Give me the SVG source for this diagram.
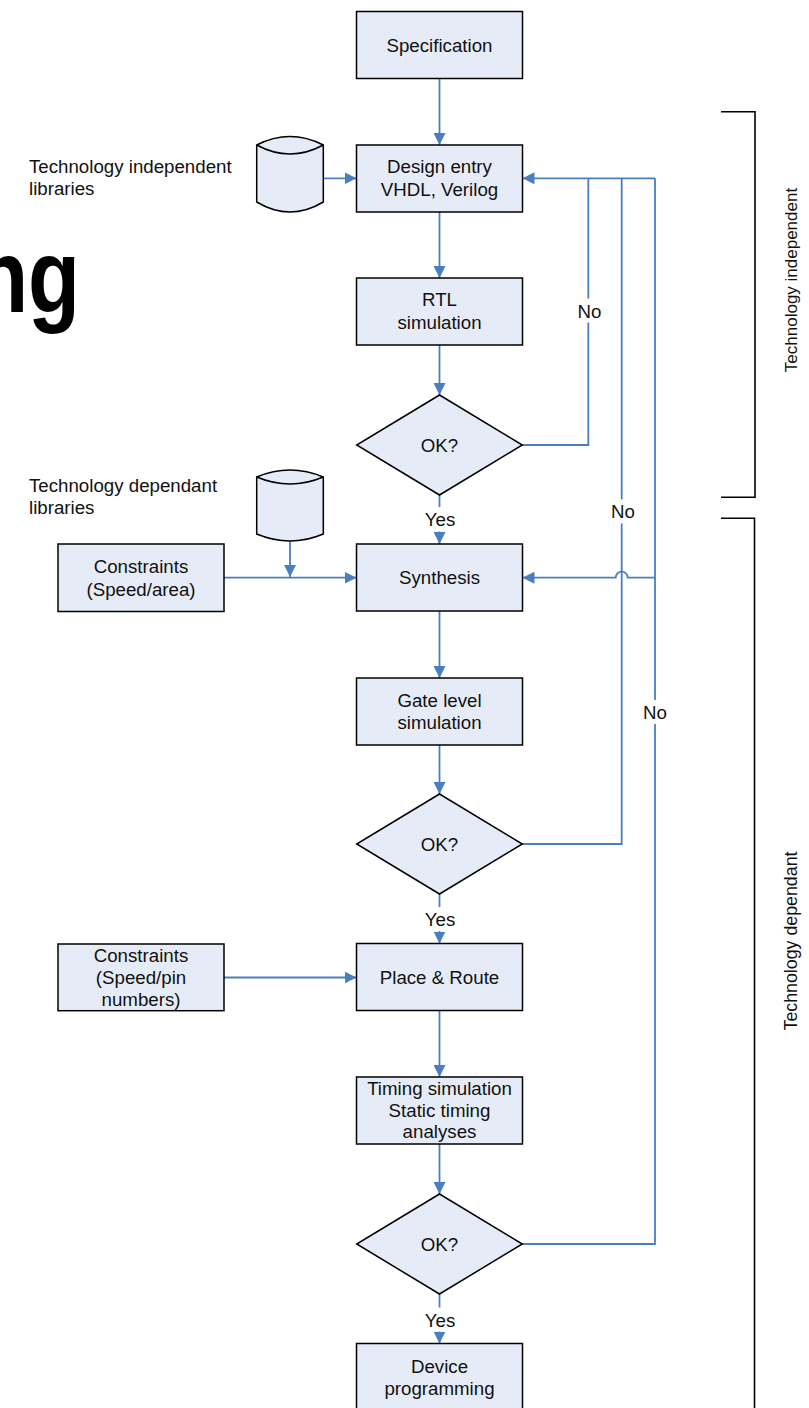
<svg xmlns="http://www.w3.org/2000/svg" width="809" height="1408" viewBox="0 0 809 1408">
  <style>
    .box { fill: #E6ECF7; stroke: #000; stroke-width: 1.5; }
    .cyl { fill: #E6ECF7; stroke: #000; stroke-width: 1.5; }
    .wire { fill: none; stroke: #4A7EBE; stroke-width: 1.8; }
    .arrow { fill: none; stroke: #4A7EBE; stroke-width: 1.8; marker-end: url(#head); }
    .brk { fill: none; stroke: #000; stroke-width: 1.6; }
    .t { font-family: "Liberation Sans", Arial, sans-serif; font-size: 18.7px; fill: #111; }
    .c { text-anchor: middle; }
    .side { font-family: "Liberation Sans", Arial, sans-serif; font-size: 17px; fill: #111; text-anchor: middle; }
    .bg { fill: #fff; }
  </style>
  <defs>
    <marker id="head" markerUnits="userSpaceOnUse" markerWidth="12" markerHeight="12" refX="12" refY="6" orient="auto">
      <path d="M0,0 L12,6 L0,12 z" fill="#4A7EBE"/>
    </marker>
  </defs>

  <rect width="809" height="1408" fill="#fff"/>

  <!-- clipped title fragment -->
  <text transform="translate(80,312) scale(1,1.22)" font-family="'Liberation Sans', Arial, sans-serif" font-weight="bold" font-size="85" text-anchor="end" fill="#000">ng</text>

  <!-- library captions -->
  <g id="lib-indep-label">
    <text class="t" x="29" y="173.3">Technology independent</text>
    <text class="t" x="29" y="195.3">libraries</text>
  </g>
  <g id="lib-dep-label">
    <text class="t" x="29" y="491.7">Technology dependant</text>
    <text class="t" x="29" y="514">libraries</text>
  </g>

  <!-- phase brackets -->
  <g id="bracket-indep">
    <path class="brk" d="M721,111.7 H755 V497.3 H721"/>
    <text class="side" transform="translate(797,280) rotate(-90)">Technology independent</text>
  </g>
  <g id="bracket-dep">
    <path class="brk" d="M721,518.3 H754.5 V1412"/>
    <text class="side" transform="translate(797,941) rotate(-90)" style="font-size:17.8px">Technology dependant</text>
  </g>

  <!-- connectors -->
  <g id="connectors">
    <line class="arrow" x1="439.5" y1="78.5" x2="439.5" y2="145"/>
    <line class="arrow" x1="439.5" y1="212" x2="439.5" y2="278"/>
    <line class="arrow" x1="439.5" y1="345" x2="439.5" y2="395"/>
    <line class="arrow" x1="439.5" y1="495" x2="439.5" y2="544"/>
    <line class="arrow" x1="439.5" y1="611" x2="439.5" y2="678"/>
    <line class="arrow" x1="439.5" y1="745" x2="439.5" y2="794"/>
    <line class="arrow" x1="439.5" y1="894" x2="439.5" y2="943.5"/>
    <line class="arrow" x1="439.5" y1="1010.5" x2="439.5" y2="1077"/>
    <line class="arrow" x1="439.5" y1="1144" x2="439.5" y2="1194"/>
    <line class="arrow" x1="439.5" y1="1294" x2="439.5" y2="1343.5"/>

    <!-- library and constraint inputs -->
    <line class="arrow" x1="323.3" y1="178.3" x2="356.5" y2="178.3"/>
    <line class="arrow" x1="224" y1="577.7" x2="356.5" y2="577.7"/>
    <line class="arrow" x1="290" y1="540.5" x2="290" y2="577"/>
    <line class="arrow" x1="224" y1="977.5" x2="356.5" y2="977.5"/>

    <!-- retry loops -->
    <polyline class="wire" points="522.3,445 588.3,445 588.3,178.3"/>
    <polyline class="wire" points="522.3,844 621.7,844 621.7,178.3"/>
    <polyline class="wire" points="522.3,1244 655,1244 655,178.3"/>
    <line class="arrow" x1="655" y1="178.3" x2="522.5" y2="178.3"/>
    <path class="arrow" d="M655,577.7 H627.7 A6,6 0 0 0 615.7,577.7 H522.5"/>

    <!-- branch labels -->
    <rect class="bg" x="425" y="507" width="30" height="24.5"/>
    <text class="t c" x="440" y="525.7">Yes</text>
    <rect class="bg" x="425" y="907" width="30" height="24"/>
    <text class="t c" x="440" y="925.7">Yes</text>
    <rect class="bg" x="425" y="1307.5" width="30" height="24"/>
    <text class="t c" x="440" y="1326.7">Yes</text>
    <rect class="bg" x="577" y="298.5" width="25" height="24"/>
    <text class="t c" x="589.5" y="318">No</text>
    <rect class="bg" x="610.5" y="499.5" width="25" height="24"/>
    <text class="t c" x="623" y="517.7">No</text>
    <rect class="bg" x="642.5" y="700" width="25" height="24"/>
    <text class="t c" x="655" y="718.5">No</text>
  </g>

  <!-- libraries -->
  <g id="lib-indep">
    <path class="cyl" d="M256.7,145 Q290,128 323.3,145 V202 Q290,222 256.7,202 Z"/>
    <path class="cyl" d="M256.7,145 Q290,163 323.3,145" fill="none"/>
  </g>
  <g id="lib-dep">
    <path class="cyl" d="M256.7,477 Q290,463 323.3,477 V534 Q290,548 256.7,534 Z"/>
    <path class="cyl" d="M256.7,477 Q290,491 323.3,477" fill="none"/>
  </g>

  <!-- flow steps -->
  <g id="specification">
    <rect class="box" x="356.5" y="11.5" width="166" height="67"/>
    <text class="t c" x="439.5" y="51.7">Specification</text>
  </g>
  <g id="design-entry">
    <rect class="box" x="356.5" y="145" width="166" height="67"/>
    <text class="t c" x="439.5" y="173.3">Design entry</text>
    <text class="t c" x="439.5" y="196">VHDL, Verilog</text>
  </g>
  <g id="rtl-sim">
    <rect class="box" x="356.5" y="278" width="166" height="67"/>
    <text class="t c" x="439.5" y="306.3">RTL</text>
    <text class="t c" x="439.5" y="329">simulation</text>
  </g>
  <g id="check-rtl">
    <polygon class="box" points="439.5,395 522.3,445 439.5,495 356.7,445"/>
    <text class="t c" x="439.5" y="451.7">OK?</text>
  </g>
  <g id="constraints-area">
    <rect class="box" x="58" y="544" width="166" height="67.5"/>
    <text class="t c" x="141" y="572.7">Constraints</text>
    <text class="t c" x="141" y="595.5">(Speed/area)</text>
  </g>
  <g id="synthesis">
    <rect class="box" x="356.5" y="544" width="166" height="67"/>
    <text class="t c" x="439.5" y="584.4">Synthesis</text>
  </g>
  <g id="gate-sim">
    <rect class="box" x="356.5" y="678" width="166" height="67"/>
    <text class="t c" x="439.5" y="706.5">Gate level</text>
    <text class="t c" x="439.5" y="729.2">simulation</text>
  </g>
  <g id="check-gate">
    <polygon class="box" points="439.5,794 522.3,844 439.5,894 356.7,844"/>
    <text class="t c" x="439.5" y="850.7">OK?</text>
  </g>
  <g id="constraints-pins">
    <rect class="box" x="58" y="944" width="166" height="66.7"/>
    <text class="t c" x="141" y="961.7">Constraints</text>
    <text class="t c" x="141" y="983.5">(Speed/pin</text>
    <text class="t c" x="141" y="1005.5">numbers)</text>
  </g>
  <g id="place-route">
    <rect class="box" x="356.5" y="943.5" width="166" height="67"/>
    <text class="t c" x="439.5" y="984">Place &amp; Route</text>
  </g>
  <g id="timing">
    <rect class="box" x="356.5" y="1077" width="166" height="67"/>
    <text class="t c" x="439.5" y="1095">Timing simulation</text>
    <text class="t c" x="439.5" y="1116.7">Static timing</text>
    <text class="t c" x="439.5" y="1138.3">analyses</text>
  </g>
  <g id="check-timing">
    <polygon class="box" points="439.5,1194 522.3,1244 439.5,1294 356.7,1244"/>
    <text class="t c" x="439.5" y="1250.7">OK?</text>
  </g>
  <g id="device-prog">
    <rect class="box" x="356.5" y="1343.5" width="166" height="67"/>
    <text class="t c" x="439.5" y="1372.7">Device</text>
    <text class="t c" x="439.5" y="1395">programming</text>
  </g>
</svg>
